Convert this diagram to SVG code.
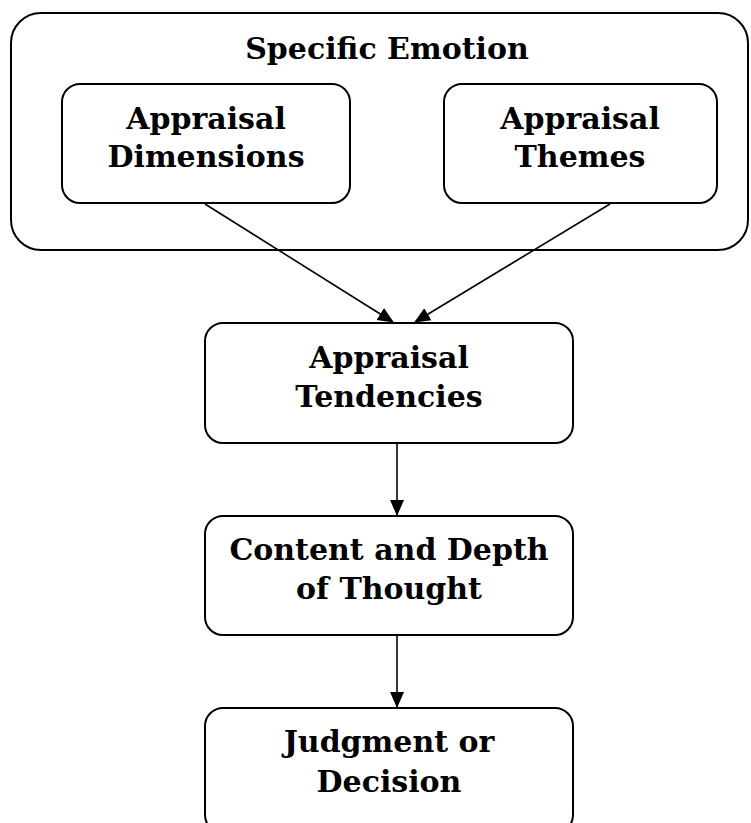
<svg xmlns="http://www.w3.org/2000/svg" width="751" height="823" viewBox="0 0 751 823">
<defs>
<style>
.box{fill:#fff;stroke:#000;stroke-width:2}
.t{font-family:"DejaVu Serif","Liberation Serif",serif;font-weight:bold;font-size:30px;text-anchor:middle;fill:#000}
.c{stroke:#000;stroke-width:1.6;fill:none}
</style>
<marker id="ah2" markerWidth="16" markerHeight="16" refX="15" refY="8" orient="auto" markerUnits="userSpaceOnUse" viewBox="0 0 16 16">
<path d="M0,1 L16,8 L0,15 z" fill="#000"/>
</marker>
</defs>
<g id="specific-emotion">
<rect class="box" x="11" y="13" width="737" height="237" rx="30"/>
<text class="t" x="387" y="59">Specific Emotion</text>
</g>
<g id="appraisal-dimensions">
<rect class="box" x="62" y="84" width="288" height="119" rx="18"/>
<text class="t" x="206" y="129">Appraisal</text>
<text class="t" x="206" y="167">Dimensions</text>
</g>
<g id="appraisal-themes">
<rect class="box" x="444" y="84" width="273" height="119" rx="18"/>
<text class="t" x="580" y="129">Appraisal</text>
<text class="t" x="580" y="167">Themes</text>
</g>
<g id="appraisal-tendencies">
<rect class="box" x="205" y="323" width="368" height="120" rx="18"/>
<text class="t" x="389" y="368">Appraisal</text>
<text class="t" x="389" y="407">Tendencies</text>
</g>
<g id="content-depth">
<rect class="box" x="205" y="516" width="368" height="119" rx="18"/>
<text class="t" x="389" y="560">Content and Depth</text>
<text class="t" x="389" y="599">of Thought</text>
</g>
<g id="judgment">
<rect class="box" x="205" y="708" width="368" height="125" rx="18"/>
<text class="t" x="389" y="752">Judgment or</text>
<text class="t" x="389" y="792">Decision</text>
</g>
<g id="connectors">
<line class="c" x1="205" y1="204" x2="393" y2="322" marker-end="url(#ah2)"/>
<line class="c" x1="610" y1="204" x2="415" y2="322" marker-end="url(#ah2)"/>
<line class="c" x1="397" y1="443" x2="397" y2="515" marker-end="url(#ah2)"/>
<line class="c" x1="397" y1="635" x2="397" y2="707" marker-end="url(#ah2)"/>
</g>
</svg>
